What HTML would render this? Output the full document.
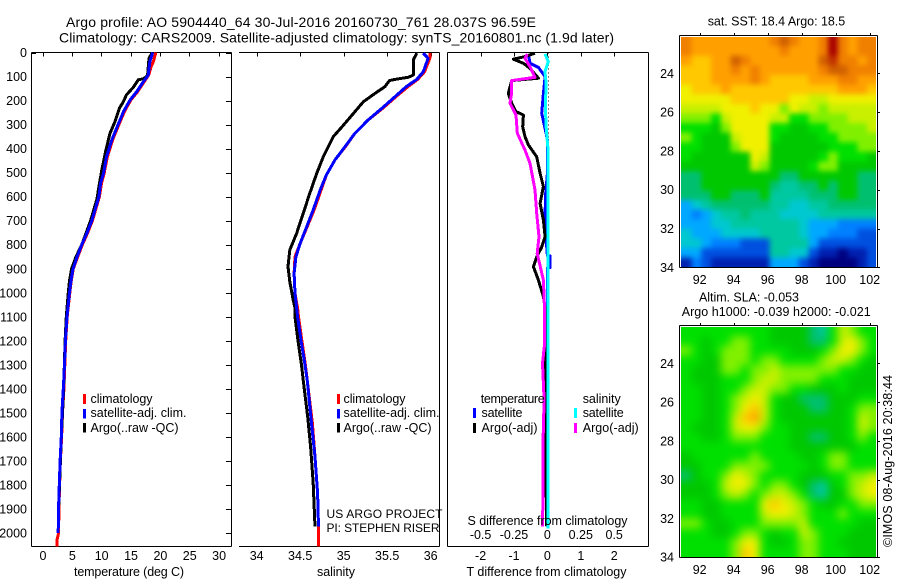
<!DOCTYPE html>
<html>
<head>
<meta charset="utf-8">
<title>Argo profile</title>
<style>
html,body{margin:0;padding:0;background:#fff;}
svg{display:block;}
text{font-family:"Liberation Sans",sans-serif;font-size:12.5px;fill:#000;}
.t{font-size:14px;}
.s{font-size:12px;}
</style>
</head>
<body>
<svg id="fig" xmlns="http://www.w3.org/2000/svg" width="900" height="580" viewBox="0 0 900 580">
<defs>
<clipPath id="clipA"><rect x="681" y="37" width="195" height="230"/></clipPath>
<clipPath id="clipB"><rect x="681" y="327" width="195" height="230"/></clipPath>
<filter id="blurA" filterUnits="userSpaceOnUse" x="650" y="0" width="250" height="300" color-interpolation-filters="sRGB"><feGaussianBlur stdDeviation="2.6"/></filter>
<filter id="blurB" filterUnits="userSpaceOnUse" x="650" y="290" width="250" height="290" color-interpolation-filters="sRGB"><feGaussianBlur stdDeviation="4.5"/></filter>
</defs>
<rect x="0" y="0" width="900" height="580" fill="#fff"/>

<text class="t" x="66" y="27" textLength="470">Argo profile: AO 5904440_64 30-Jul-2016 20160730_761 28.037S 96.59E</text>
<text class="t" x="59" y="42.5" textLength="555">Climatology: CARS2009. Satellite-adjusted climatology: synTS_20160801.nc (1.9d later)</text>

<g id="layer-maps"></g>
<g id="layer-axes"></g>
<g id="layer-lines"></g>

<!-- legends -->
<g>
<rect x="83" y="394" width="3" height="10" fill="#f00"/>
<rect x="83" y="409" width="3" height="9.5" fill="#00f"/>
<rect x="83" y="423" width="3" height="9.5" fill="#000"/>
<text x="90.5" y="403" textLength="62">climatology</text>
<text x="90.5" y="417" textLength="96">satellite-adj. clim.</text>
<text x="90.5" y="432" textLength="88">Argo(..raw -QC)</text>
</g>
<g>
<rect x="337" y="394" width="3" height="10" fill="#f00"/>
<rect x="337" y="409" width="3" height="9.5" fill="#00f"/>
<rect x="337" y="423" width="3" height="9.5" fill="#000"/>
<text x="343.5" y="403" textLength="62">climatology</text>
<text x="343.5" y="417" textLength="96">satellite-adj. clim.</text>
<text x="343.5" y="432" textLength="88">Argo(..raw -QC)</text>
<text class="s" x="326.5" y="518" textLength="116">US ARGO PROJECT</text>
<text class="s" x="326.5" y="532" textLength="113">PI: STEPHEN RISER</text>
</g>
<g>
<text x="480.7" y="403" textLength="64">temperature</text>
<text x="481.5" y="417" textLength="41">satellite</text>
<text x="481.5" y="432" textLength="56">Argo(-adj)</text>
<rect x="473" y="408" width="3" height="10" fill="#00f"/>
<rect x="473" y="423" width="3" height="10" fill="#000"/>
<text x="582.7" y="403" textLength="38">salinity</text>
<text x="582.7" y="417" textLength="41">satellite</text>
<text x="582.7" y="432" textLength="56">Argo(-adj)</text>
<rect x="574" y="408" width="3" height="10" fill="#0ff"/>
<rect x="574" y="423" width="3" height="10" fill="#f0f"/>
</g>

<text x="74" y="576" textLength="110">temperature (deg C)</text>
<text x="317" y="576" textLength="38">salinity</text>
<text x="466.5" y="576" textLength="160">T difference from climatology</text>
<text x="467.5" y="525" textLength="160">S difference from climatology</text>

<text x="707.7" y="25.5" textLength="137.5">sat. SST: 18.4 Argo: 18.5</text>
<text x="699" y="301.7" textLength="100">Altim. SLA: -0.053</text>
<text x="681.7" y="316" textLength="189">Argo h1000: -0.039 h2000: -0.021</text>
<text transform="translate(892,547) rotate(-90)" x="0" y="0" textLength="172">©IMOS 08-Aug-2016 20:38:44</text>
</svg>

<script>
// ---------- profile data ----------
var depthTicks = [0,100,200,300,400,500,600,700,800,900,1000,1100,1200,1300,1400,1500,1600,1700,1800,1900,2000];
var tempTicks = [0,5,10,15,20,25,30];
var salTicks = [34,34.5,35,35.5,36];
var salTickLabels = ['34','34.5','35','35.5','36'];
var tDiffTicks = [-2,-1,0,1,2];
var sDiffTicks = [-0.5,-0.25,0,0.25,0.5];
var sDiffLabels = ['-0.5','-0.25','0','0.25','0.5'];

var climTempDepth = [0,38,59,94,121,163,198,246,316,364,434,503,544,600,700,750,800,850,900,950,1000,1100,1200,1300,1400,1500,1600,1700,1800,1900,2000,2030,2056];
var climTemp = [19.3,18.9,18.5,18.1,17.35,16.2,15.05,13.95,12.75,11.95,11.05,10.5,10.05,9.7,8.5,7.7,6.8,6.0,5.25,4.9,4.65,4.2,3.95,3.8,3.65,3.4,3.25,3.05,2.92,2.8,2.75,2.45,2.45];
var satTempDepth = [0,38,94,121,163,198,246,316,364,434,503,544,600,700,750,800,850,900,950,1000,1100,1200,1300,1400,1500,1600,1700,1800,1900,2000];
var satTemp = [18.77,18.3,18.0,17.2,16.05,14.9,13.8,12.6,11.8,10.9,10.4,9.9,9.6,8.4,7.6,6.7,5.9,5.2,4.85,4.6,4.17,3.9,3.75,3.55,3.3,3.2,3.0,2.86,2.73,2.67];
var argoTempDepth = [0,24,94,108,114,145,177,205,232,288,336,406,489,558,607,700,800,850,900,950,1000,1100,1200,1400,1500,1600,1700,1800,1900,1970];
var argoTemp = [18.7,18.15,17.9,17.3,16.3,15.47,14.3,13.77,13.1,12.35,11.5,10.8,10.1,9.6,9.3,8.2,6.7,5.7,4.95,4.6,4.4,4.05,3.85,3.6,3.4,3.2,3.05,2.9,2.75,2.7];

var climSalDepth = [3,24,80,112,142,184,232,281,336,392,447,510,572,655,725,794,850,919,1002,1064,1100,1200,1300,1363,1543,1682,1835,1973,2056];
var climSal = [35.99,35.99,35.93,35.85,35.74,35.6,35.45,35.28,35.13,35.02,34.9,34.8,34.74,34.66,34.58,34.5,34.44,34.43,34.44,34.47,34.48,34.52,34.56,34.58,34.64,34.67,34.7,34.71,34.71];
var satSalDepth = [3,24,80,112,142,184,232,281,336,392,447,510,572,655,725,794,850,919,1002,1064,1100,1200,1300,1363,1543,1682,1835,1973];
var satSal = [35.915,35.97,35.915,35.84,35.72,35.59,35.44,35.28,35.13,35.015,34.9,34.8,34.73,34.65,34.575,34.5,34.45,34.43,34.44,34.46,34.47,34.51,34.555,34.58,34.63,34.67,34.7,34.71];
var argoSalDepth = [3,31,94,103,112,117,142,170,205,246,309,350,434,503,586,669,752,822,891,954,1030,1064,1100,1200,1300,1363,1516,1641,1793,1973];
var argoSal = [35.84,35.8,35.8,35.74,35.59,35.525,35.475,35.36,35.225,35.13,34.98,34.88,34.765,34.69,34.61,34.535,34.46,34.38,34.36,34.38,34.42,34.44,34.44,34.475,34.515,34.535,34.586,34.62,34.65,34.67];

var tSatDiffDepth = [6,45,62,100,170,253,336,364,503,600,697,808,845,847,895,897,974,1064,1973];
var tSatDiff = [-0.57,-0.52,-0.27,-0.07,-0.12,-0.17,-0.04,0,0,-0.06,-0.07,-0.02,0,0.08,0.08,0,0,0,-0.01];
var tArgoDiffDepth = [3,17,28,45,66,107,117,170,211,246,260,309,350,385,434,503,558,628,697,767,810,850,891,947,1016,1064,1200,1400,1970];
var tArgoDiff = [-0.37,-0.67,-1.02,-0.72,-0.52,-0.27,-1.07,-1.17,-1.07,-0.94,-0.72,-0.74,-0.67,-0.57,-0.32,-0.22,-0.12,-0.22,-0.12,-0.07,-0.17,-0.32,-0.42,-0.27,-0.12,-0.07,-0.05,-0.05,-0.03];
var sSatDiffDepth = [6,38,80,128,225,309,392,1064,1980];
var sSatDiff = [-0.018,0.007,-0.018,-0.01,-0.015,-0.01,0.003,0.004,0.006];
var sArgoDiffDepth = [6,24,59,103,117,170,211,260,336,406,461,572,669,767,836,947,1064,1210,1293,1446,1625,1973];
var sArgoDiff = [-0.15,-0.168,-0.13,-0.093,-0.268,-0.268,-0.28,-0.235,-0.225,-0.168,-0.13,-0.093,-0.08,-0.063,-0.076,-0.03,-0.022,-0.02,-0.037,-0.025,-0.033,-0.035];

// ---------- map data (colour level per cell, row = north to south) ----------
var mapLonTicks = [92,94,96,98,100,102];
var mapLatTicks = [24,26,28,30,32,34];
var sstGrid = [
[15,14,14,14,14,14,14,14,14,15,16,15,14,14,15,18,15,14,15,15],
[15,14,14,14,14,14,14,14,14,14,15,14,14,14,15,18,15,14,15,15],
[14,13,13,14,14,16,15,14,14,14,14,14,14,14,16,17,15,15,14,15],
[13,13,13,14,14,15,14,15,14,14,14,14,14,14,15,16,16,15,15,15],
[13,13,13,14,14,14,14,15,14,13,13,13,13,14,14,14,15,15,14,14],
[12,13,13,13,14,13,13,13,13,13,13,13,13,13,13,13,14,14,14,13],
[12,12,12,12,12,13,13,13,13,13,13,12,12,11,11,12,12,12,12,12],
[11,11,11,11,12,12,12,13,12,12,10,12,11,11,10,11,11,11,11,11],
[10,10,10,9,11,12,12,12,12,11,11,9,9,10,10,10,10,11,11,11],
[9,9,9,8,10,12,12,12,12,9,9,8,8,9,9,10,10,10,10,11],
[10,9,8,8,8,11,12,12,12,9,8,8,8,8,9,9,10,10,10,10],
[9,9,8,8,8,10,12,12,12,8,8,8,8,8,8,9,9,9,10,10],
[9,8,8,8,8,8,8,12,11,8,8,8,8,8,9,10,9,9,9,8],
[8,8,8,8,8,8,8,11,10,8,8,8,8,9,10,10,8,8,8,8],
[7,7,8,8,8,8,8,8,8,8,7,7,8,8,8,8,8,8,7,7],
[7,7,8,8,8,8,8,8,8,7,6,6,7,7,8,7,8,8,7,7],
[7,7,7,8,8,7,7,7,8,6,6,6,6,7,7,7,8,8,7,7],
[4,5,6,7,7,7,7,7,7,6,6,5,5,6,6,7,7,7,7,7],
[4,3,4,5,6,6,7,6,6,6,5,5,5,5,6,6,6,6,6,6],
[4,4,4,5,5,6,6,6,6,6,6,6,5,4,4,4,3,3,3,3],
[5,4,4,4,5,5,5,5,6,6,6,6,5,4,4,3,3,3,2,2],
[5,5,4,3,3,3,2,2,2,6,6,6,6,4,2,2,2,2,2,2],
[4,4,2,2,2,2,2,2,2,6,6,5,5,2,1,1,0,1,1,2],
[1,3,2,1,1,1,1,1,1,4,4,4,2,1,0,0,0,0,1,2]
];
var slaGrid = [
[9,9,9,9,9,9,9,9,9,8,8,8,8,7,6,9,11,10,9,9],
[9,9,8,9,9,10,10,9,9,8,8,8,8,7,7,9,11,12,10,9],
[10,9,8,9,10,10,10,9,9,9,9,8,8,8,9,10,12,12,10,9],
[9,9,8,8,10,10,10,9,10,10,9,9,9,9,10,11,11,10,9,8],
[9,8,8,8,10,10,9,10,10,11,10,10,10,10,10,10,9,9,8,8],
[9,8,8,8,9,9,9,10,11,11,10,10,10,10,9,9,9,8,8,8],
[9,9,8,8,9,9,10,11,11,10,10,9,9,8,8,8,9,8,8,8],
[9,9,8,8,9,10,11,12,11,9,8,8,7,7,7,8,8,8,9,9],
[9,9,8,8,9,10,12,13,11,9,8,8,8,7,7,8,8,9,10,10],
[9,9,8,8,9,11,13,14,11,9,8,8,8,8,8,8,8,9,11,10],
[9,8,8,8,9,11,12,12,10,9,9,8,8,8,8,8,8,9,11,10],
[9,9,8,8,9,10,10,10,9,9,9,8,8,7,7,8,8,9,10,9],
[9,9,9,9,9,9,9,9,9,9,9,8,8,8,8,8,8,8,9,9],
[8,9,9,9,9,9,9,10,9,9,9,9,8,8,9,10,10,9,9,9],
[8,8,9,9,9,10,10,10,10,9,9,9,9,8,9,10,10,9,9,9],
[7,8,9,9,10,12,11,10,9,9,9,9,8,8,8,9,9,10,10,11],
[8,8,8,9,11,12,12,10,9,10,10,9,8,7,6,8,9,10,11,12],
[8,8,8,9,10,11,10,9,10,11,11,10,9,7,6,8,8,10,11,12],
[9,9,8,8,9,9,9,9,12,13,12,11,10,9,8,8,9,9,10,10],
[9,9,8,8,9,9,9,9,11,12,12,11,10,9,9,9,10,9,9,9],
[10,10,9,8,8,9,9,9,10,10,10,10,11,9,9,9,9,9,8,8],
[9,9,9,8,8,9,10,10,9,8,9,9,11,10,9,9,9,8,8,8],
[9,9,9,9,9,10,12,12,9,8,8,9,10,10,9,9,8,8,8,8],
[9,9,9,9,9,10,13,12,9,9,9,9,10,10,9,9,9,8,8,8]
];
var levelColors = ['#00007f','#0020b0','#0050e0','#0080ff','#00a8ff','#00c8d0','#00c8a0','#00c070','#00c800','#00e000','#80f000','#c8f000','#f0f000','#ffc800','#ffa000','#f08000','#d06000','#c03000','#a80000'];

// ---------- axis functions ----------
function yD(d){return 52.5+d*0.2403;}
function xT(t){return 42.5+5.87*t;}
function xS(s){return 256.7+87*(s-34);}
function xTd(t){return 547.4+33.4*t;}
function xSd(s){return 547.4+133.6*s;}
function xLon(l){return 699.7+(l-92)*17;}
function yLatA(l){return 73.3+(l-24)*19.4;}
function yLatB(l){return 363.4+(l-24)*19.36;}

var NS='http://www.w3.org/2000/svg';
function mk(tag,parent,attrs){var e=document.createElementNS(NS,tag);for(var k in attrs){e.setAttribute(k,attrs[k]);}parent.appendChild(e);return e;}
var axes=document.getElementById('layer-axes');
var lines=document.getElementById('layer-lines');
var maps=document.getElementById('layer-maps');

function hline(x1,y1,x2,y2,name){
  var l=mk('line',axes,{x1:x1,y1:y1,x2:x2,y2:y2,stroke:'#000','stroke-width':1,'shape-rendering':'crispEdges'});
  
  
  return l;
}
function label(x,y,str,anchor,name){
  var t=mk('text',axes,{x:x,y:y,'text-anchor':anchor});
  t.textContent=str;
  
  
  return t;
}

// panel frames
hline(31.5,52.5,231.5,52.5,'temperature-panel-top-axis');
hline(31.5,52.5,31.5,546.5,'temperature-panel-left-axis');
hline(231.5,52.5,231.5,546.5,'temperature-panel-right-axis');
hline(31.5,546.5,231.5,546.5,'temperature-panel-bottom-axis');
hline(239,52.5,439.5,52.5,'salinity-panel-top-axis');
hline(439.5,52.5,439.5,546.5,'salinity-panel-right-axis');
hline(239,546.5,439.5,546.5,'salinity-panel-bottom-axis');
hline(447.5,52.5,648.5,52.5,'difference-panel-top-axis');
hline(447.5,52.5,447.5,546.5,'difference-panel-left-axis');
hline(648.5,52.5,648.5,546.5,'difference-panel-right-axis');
hline(447.5,546.5,648.5,546.5,'difference-panel-bottom-axis');

// depth ticks
depthTicks.forEach(function(d){
  var y=Math.round(yD(d))+0.5;
  hline(226,y,231,y,'depth-tick');
  label(27,yD(d)+4.5,String(d),'end','depth-tick-label');
});
hline(31.5,53.5,36,53.5,'temperature-panel-corner-tick');
// x ticks
tempTicks.forEach(function(t){
  var x=Math.round(xT(t))+0.5;
  hline(x,52.5,x,56.5,'temperature-tick');
  label(xT(t)+0.5,560,String(t),'middle','temperature-tick-label');
});
salTicks.forEach(function(s,i){
  var x=Math.round(xS(s))+0.5;
  hline(x,52.5,x,56.5,'salinity-tick');
  label(xS(s),560,salTickLabels[i],'middle','salinity-tick-label');
});
tDiffTicks.forEach(function(t){
  var x=Math.round(xTd(t))+0.5;
  hline(x,52.5,x,56.5,'t-difference-tick');
  label(xTd(t),560,String(t),'middle','t-difference-tick-label');
});
sDiffTicks.forEach(function(s,i){
  label(xSd(s),539,sDiffLabels[i],'middle','s-difference-tick-label');
});

// lines
function profile(depths,vals,xf,color,w,name){
  var pts=[];
  for(var i=0;i<depths.length;i++){pts.push(xf(vals[i]).toFixed(1)+','+yD(depths[i]).toFixed(1));}
  var p=mk('polyline',lines,{points:pts.join(' '),fill:'none',stroke:color,'stroke-width':w,'shape-rendering':'crispEdges','stroke-linejoin':'round'});
  
  
  return p;
}
profile(climTempDepth,climTemp,xT,'#f00',3,'temperature-climatology-line');
profile(argoTempDepth,argoTemp,xT,'#000',3,'temperature-argo-line');
profile(satTempDepth,satTemp,xT,'#00f',3,'temperature-satellite-line');
profile(climSalDepth,climSal,xS,'#f00',3,'salinity-climatology-line');
profile(argoSalDepth,argoSal,xS,'#000',3,'salinity-argo-line');
profile(satSalDepth,satSal,xS,'#00f',3,'salinity-satellite-line');

var zero=mk('line',lines,{x1:xTd(0)+1,y1:yD(0),x2:xTd(0)+1,y2:yD(1980),stroke:'#000','stroke-width':1,'stroke-dasharray':'1 3','shape-rendering':'crispEdges'});


profile(tSatDiffDepth,tSatDiff,xTd,'#00f',3,'t-difference-satellite-line');
profile(tArgoDiffDepth,tArgoDiff,xTd,'#000',3,'t-difference-argo-line');
profile(sSatDiffDepth,sSatDiff,xSd,'#0ff',3,'s-difference-satellite-line');
profile(sArgoDiffDepth,sArgoDiff,xSd,'#f0f',3,'s-difference-argo-line');

// maps
function levelColor(v){
  var i=Math.max(0,Math.min(levelColors.length-1,Math.round(v)));
  return levelColors[i];
}
function drawMap(grid,yf,clip,filter,name,yTop,yBot){
  var clipG=mk('g',maps,{'clip-path':'url(#'+clip+')'});
  
  
  var g=mk('g',clipG,{filter:'url(#'+filter+')'});
  var rows=grid.length, cols=grid[0].length;
  var lonA=90.95, lonB=102.42, latA=22.1, latB=34;
  for(var r=0;r<rows;r++){
    for(var c=0;c<cols;c++){
      var lx0=lonA+(lonB-lonA)*c/cols, lx1=lonA+(lonB-lonA)*(c+1)/cols;
      var ly0=latA+(latB-latA)*r/rows, ly1=latA+(latB-latA)*(r+1)/rows;
      var px0=xLon(lx0), px1=xLon(lx1), py0=yf(ly0), py1=yf(ly1);
      if(c===0){px0-=15;}
      if(c===cols-1){px1+=15;}
      if(r===0){py0-=15;}
      if(r===rows-1){py1+=15;}
      var cell=mk('rect',g,{x:px0.toFixed(2),y:py0.toFixed(2),width:(px1-px0+0.5).toFixed(2),height:(py1-py0+0.5).toFixed(2),fill:levelColor(grid[r][c])});
      
      
    }
  }
  hline(679.5,yTop+0.5,877.5,yTop+0.5,name+'-top-axis');
  hline(679.5,yBot+0.5,877.5,yBot+0.5,name+'-bottom-axis');
  hline(679.5,yTop+0.5,679.5,yBot+0.5,name+'-left-axis');
  hline(877.5,yTop+0.5,877.5,yBot+0.5,name+'-right-axis');
  mapLonTicks.forEach(function(l){
    var x=Math.round(xLon(l))+0.5;
    hline(x,yTop-2,x,yTop+0.5,name+'-lon-tick');
    label(xLon(l),yBot+17,String(l),'middle',name+'-lon-label');
  });
  mapLatTicks.forEach(function(l){
    var y=Math.round(yf(l))+0.5;
    hline(877.5,y,880,y,name+'-lat-tick');
    label(674,yf(l)+4.5,String(l),'end',name+'-lat-label');
  });
}
drawMap(sstGrid,yLatA,'clipA','blurA','sst-map',35,267);
drawMap(slaGrid,yLatB,'clipB','blurB','sla-map',325,557);
</script>
</body>
</html>
